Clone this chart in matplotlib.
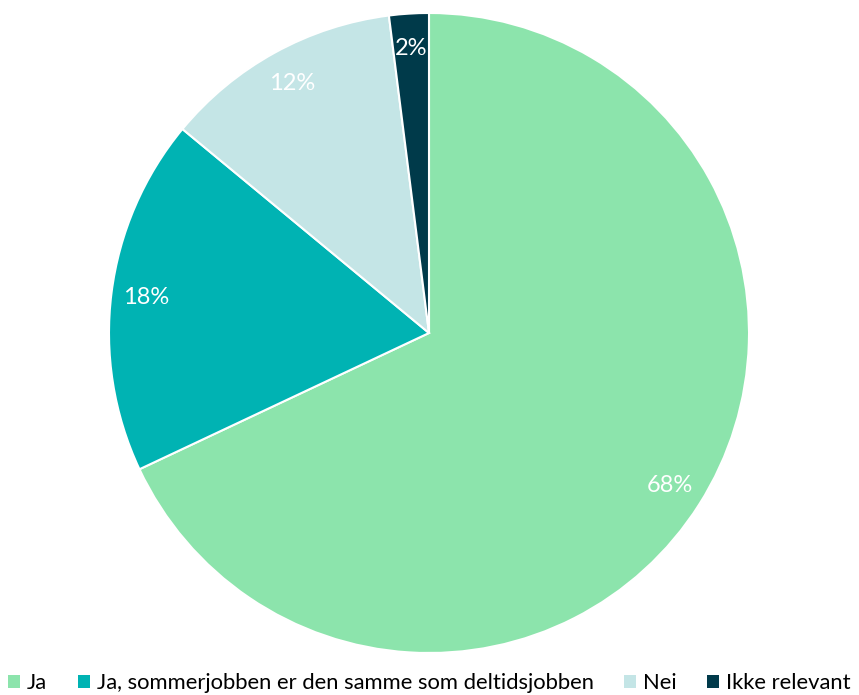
import matplotlib
matplotlib.use("Agg")
import matplotlib.pyplot as plt
from matplotlib.patches import Patch

plt.rcParams['font.family'] = ['Lato', 'DejaVu Sans']

categories = ["Ja", "Ja, sommerjobben er den samme som deltidsjobben", "Nei", "Ikke relevant"]
values = [68, 18, 12, 2]
colors = ["#8CE4AC", "#00B3B3", "#C4E5E6", "#003A4A"]

fig = plt.figure(figsize=(8.59, 6.95), dpi=100)
ax = fig.add_axes([(429 - 320) / 859, (695 - 653) / 695, 640 / 859, 640 / 695])

wedges, texts, autotexts = ax.pie(
    values, colors=colors, startangle=90, counterclock=False, radius=1.0,
    autopct=lambda p: f"{p:.0f}%", pctdistance=0.89,
    wedgeprops=dict(edgecolor="white", linewidth=1.5),
    textprops=dict(color="white", fontsize=17))
for t in autotexts:
    t.set_color("white")
ax.set_xlim(-1, 1)
ax.set_ylim(-1, 1)
ax.set_aspect("equal")
ax.axis("off")

handles = [Patch(facecolor=c, edgecolor="none") for c in colors]
fig.legend(handles, categories, loc="center", bbox_to_anchor=(0.5, (695 - 683) / 695), ncol=4,
           frameon=False, fontsize=15.8, handlelength=0.55, handleheight=0.55,
           handletextpad=0.3, columnspacing=1.4, borderpad=0, borderaxespad=0)

fig.savefig("out.png", dpi=100)
